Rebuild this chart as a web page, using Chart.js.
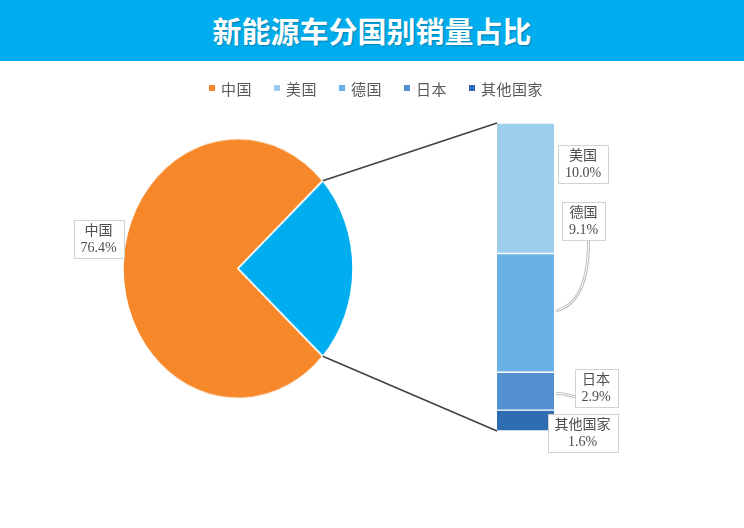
<!DOCTYPE html>
<html>
<head>
<meta charset="utf-8">
<script src="https://cdn.jsdelivr.net/npm/chart.js@4.4.1/dist/chart.umd.min.js"></script>
<style>
html, body { margin: 0; padding: 0; background: #fff; }
#page { position: relative; width: 744px; height: 528px; overflow: hidden; font-family: 'Noto Sans CJK SC', sans-serif; }
#header { position: absolute; left: 0; top: 0; width: 744px; height: 61px; background: #00AEEF; color: #fff;
  font-weight: bold; font-size: 29px; text-align: center; line-height: 61px; text-shadow: 1px 1px 2px rgba(0,0,0,.25); z-index: 2; }
#legend { position: absolute; left: 209px; top: 78px; height: 20px; display: flex; align-items: center;
  font-size: 15px; letter-spacing: 0.5px; color: #595959; z-index: 2; }
#legend .item { display: flex; align-items: center; margin-right: 22px; }
#legend .sw { width: 6px; height: 6px; margin-right: 6px; }
#pieWrap { position: absolute; left: 0; top: 0; transform: scaleY(1.1304); transform-origin: 0 0; }
#bar { position: absolute; left: 0; top: 0; z-index: 1; }
</style>
</head>
<body>
<div id="page">
  <div id="header">新能源车分国别销量占比</div>
  <div id="legend"></div>
  <div id="pieWrap"><canvas id="pie" width="744" height="475"></canvas></div>
  <canvas id="bar" width="744" height="528"></canvas>
</div>
<script>
const countries = ['中国', '美国', '德国', '日本', '其他国家'];
const shares = [76.4, 10.0, 9.1, 2.9, 1.6];
const colors = ['#F7882A', '#9DCEEC', '#6AB2E6', '#5290D0', '#2E6DB1'];
const restColor = '#00AEEF';
const restLabel = '其他';

// label box centre offsets: china from pie's left edge, others from bar right edge / segment centre
const chinaOffset = [-24.5, -29.5];
const barLabelOffsets = [[29, -24], [29.5, -92], [42, -3], [28.5, 12.5]];
const leaderTypes = ['none', 'curve', 'line', 'none'];

const pieScaleY = 1.1304; // same as the css transform of #pieWrap

const total = shares.reduce((a, b) => a + b, 0);
const restShares = shares.slice(1);
const restTotal = restShares.reduce((a, b) => a + b, 0);

// html legend
const legendEl = document.getElementById('legend');
countries.forEach((c, i) => {
  const item = document.createElement('div');
  item.className = 'item';
  item.innerHTML = '<span class="sw" style="background:' + colors[i] + '"></span><span>' + c + '</span>';
  legendEl.appendChild(item);
});

const pieChart = new Chart(document.getElementById('pie'), {
  type: 'pie',
  data: {
    labels: [countries[0], restLabel],
    datasets: [{
      data: [shares[0], restTotal],
      backgroundColor: [colors[0], restColor],
      borderColor: '#ffffff',
      borderWidth: 1.5,
      hoverOffset: 0
    }]
  },
  options: {
    responsive: false,
    animation: false,
    events: [],
    rotation: 90 + restTotal / total * 180,
    radius: 115,
    layout: { autoPadding: false, padding: { left: 0, right: 268, top: 0, bottom: 0 } },
    plugins: { legend: { display: false }, tooltip: { enabled: false } }
  }
});

function drawLabel(ctx, cx, cy, name, value) {
  ctx.font = '14px "Liberation Serif", "Noto Sans CJK SC", serif';
  const t2 = value.toFixed(1) + '%';
  const w = Math.round(Math.max(ctx.measureText(name).width, ctx.measureText(t2).width) + 14);
  const h = 38;
  const x = Math.round(cx - w / 2), y = Math.round(cy - h / 2);
  ctx.fillStyle = '#ffffff';
  ctx.fillRect(x, y, w, h);
  ctx.strokeStyle = '#D2D2D2';
  ctx.lineWidth = 1;
  ctx.strokeRect(x + 0.5, y + 0.5, w, h);
  ctx.fillStyle = '#4D4D4D';
  ctx.textAlign = 'center';
  ctx.textBaseline = 'middle';
  ctx.fillText(name, cx, cy - 8);
  ctx.fillText(t2, cx, cy + 9);
  return { x, y, w, h };
}

function doubleStroke(ctx, pathFn) {
  ctx.beginPath(); pathFn();
  ctx.strokeStyle = '#BDBDBD'; ctx.lineWidth = 3; ctx.stroke();
  ctx.beginPath(); pathFn();
  ctx.strokeStyle = '#ffffff'; ctx.lineWidth = 1; ctx.stroke();
}

const overlay = {
  id: 'overlay',
  afterDraw(chart) {
    const ctx = chart.ctx;
    const arc = pieChart.getDatasetMeta(0).data[1];
    const r = arc.outerRadius;
    const p1 = { x: arc.x + r * Math.cos(arc.startAngle), y: (arc.y + r * Math.sin(arc.startAngle)) * pieScaleY };
    const p2 = { x: arc.x + r * Math.cos(arc.endAngle), y: (arc.y + r * Math.sin(arc.endAngle)) * pieScaleY };

    const bars = chart.data.datasets.map((d, i) => chart.getDatasetMeta(i).data[0]);
    const left = bars[0].x - bars[0].width / 2;
    const right = bars[0].x + bars[0].width / 2;
    const top = Math.min(...bars.map(b => Math.min(b.y, b.base)));
    const bottom = Math.max(...bars.map(b => Math.max(b.y, b.base)));

    ctx.save();
    ctx.strokeStyle = '#404040';
    ctx.lineWidth = 1.5;
    ctx.beginPath();
    ctx.moveTo(p1.x, p1.y); ctx.lineTo(left, top);
    ctx.moveTo(p2.x, p2.y); ctx.lineTo(left, bottom);
    ctx.stroke();

    // china label
    const pieLeft = arc.x - r;
    const pieCy = arc.y * pieScaleY;
    drawLabel(ctx, pieLeft + chinaOffset[0], pieCy + chinaOffset[1], countries[0], shares[0]);

    // bar labels
    bars.forEach((b, i) => {
      const segCy = (b.y + b.base) / 2;
      const cx = right + barLabelOffsets[i][0];
      const cy = segCy + barLabelOffsets[i][1];
      const box = drawLabel(ctx, cx, cy, countries[i + 1], restShares[i]);
      if (leaderTypes[i] === 'curve') {
        const sx = cx + 5, sy = box.y + box.h + 1;
        doubleStroke(ctx, () => { ctx.moveTo(sx, sy); ctx.quadraticCurveTo(sx, segCy - 10, right + 2, segCy - 2); });
      } else if (leaderTypes[i] === 'line') {
        doubleStroke(ctx, () => { ctx.moveTo(right + 2, segCy + 2); ctx.quadraticCurveTo(box.x - 6, segCy + 3, box.x, segCy + 6); });
      }
    });
    ctx.restore();
  }
};

new Chart(document.getElementById('bar'), {
  type: 'bar',
  data: {
    labels: [restLabel],
    datasets: restShares.map((v, i) => ({
      label: countries[i + 1],
      data: [v],
      backgroundColor: colors[i + 1],
      borderColor: '#ffffff',
      borderWidth: { top: 1, bottom: 1, left: 0, right: 0 },
      borderSkipped: false,
      categoryPercentage: 1,
      barPercentage: 1
    }))
  },
  options: {
    responsive: false,
    animation: false,
    events: [],
    layout: { autoPadding: false, padding: { left: 497, right: 190, top: 123, bottom: 97 } },
    scales: {
      x: { stacked: true, display: false },
      y: { stacked: true, display: false, reverse: true, min: 0, max: restTotal }
    },
    plugins: { legend: { display: false }, tooltip: { enabled: false } }
  },
  plugins: [overlay]
});
</script>
</body>
</html>
